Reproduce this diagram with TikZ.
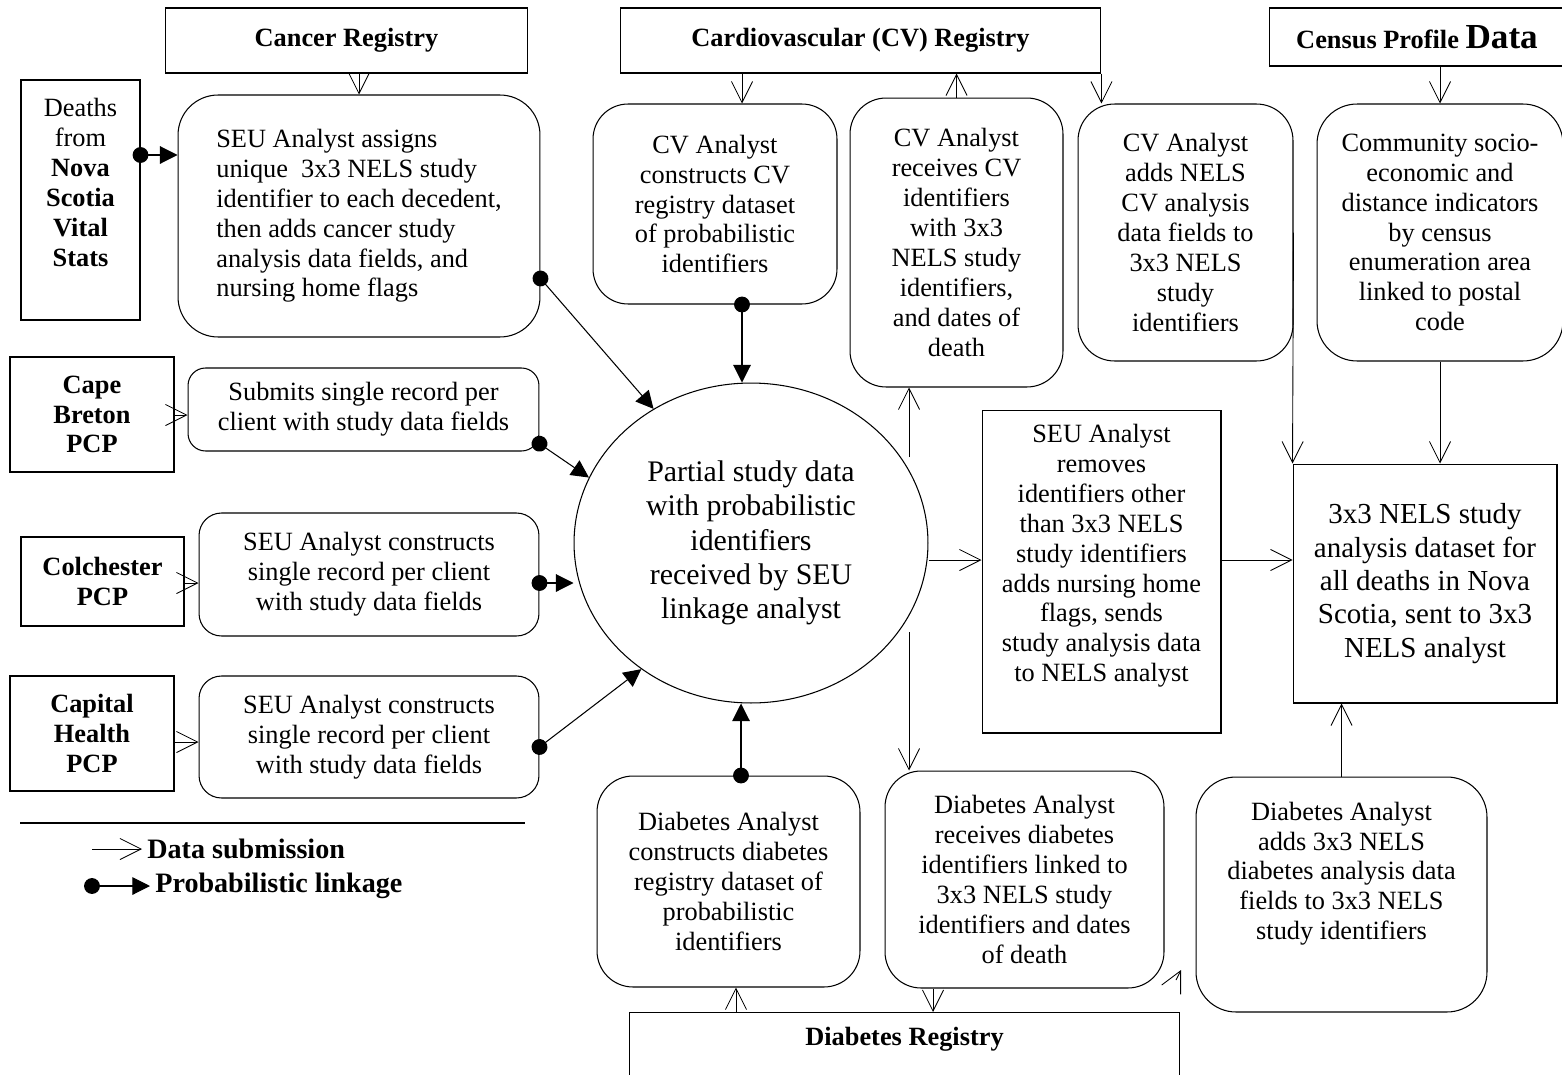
\documentclass[tikz,border=0pt]{standalone}
\usepackage{fontspec}
\setmainfont{Liberation Serif}
\usetikzlibrary{shapes.geometric, arrows.meta}

\begin{document}
\begin{tikzpicture}[x=0.02cm, y=-0.02cm,
  regbox/.style={draw, line width=0.6pt, align=center, inner sep=0pt, font=\fontsize{15}{17}\selectfont\bfseries},
  plainbox/.style={draw, line width=0.6pt, align=center, inner sep=0pt, font=\fontsize{15}{17}\selectfont},
  rbox/.style={draw, line width=0.6pt, rounded corners=#1, align=center, inner sep=0pt, font=\fontsize{15}{17}\selectfont},
  rbox/.default=0.75cm,
  hub/.style={draw, ellipse, line width=0.6pt, align=center, inner sep=0pt, font=\fontsize{17}{19.5}\selectfont},
  legend/.style={anchor=west, inner sep=0.1cm, font=\fontsize{16}{18}\selectfont\bfseries},
  sub/.style={arrows={-Straight Barb[length=12pt,width=12pt]}, line width=0.5pt},
  link/.style={arrows={Circle[length=9pt]-Triangle[length=10pt,width=10pt]}, line width=0.6pt, shorten <=-4.5pt},
]
  % Page size in pixels of the original
  \useasboundingbox (0,0) rectangle (1562,1075);

  % x positions of the vertical links
  \def\cvx{742}
  \def\diabx{741}
  \def\splitx{909}

  % Registries and data sources
  \node[regbox, minimum width=7.26cm, minimum height=1.3cm] (cancer) at (346.5,40.5) {Cancer Registry};
  \node[regbox, minimum width=9.62cm, minimum height=1.3cm] (cvreg) at (860.5,40.5) {Cardiovascular (CV) Registry};
  \node[regbox, minimum width=5.92cm, minimum height=1.16cm] (census) at (1417,37) {Census Profile {\fontsize{20}{22}\selectfont Data}};
  \node[plainbox, minimum width=2.38cm, minimum height=4.8cm, text depth=20pt] (deaths) at (80.5,200) {Deaths\\from\\\textbf{Nova}\\\textbf{Scotia}\\\textbf{Vital}\\\textbf{Stats}};
  \node[regbox, minimum width=3.28cm, minimum height=2.3cm] (cape) at (92,414.5) {Cape\\Breton\\PCP};
  \node[regbox, minimum width=3.26cm, minimum height=1.78cm] (colch) at (102.5,581.5) {Colchester\\PCP};
  \node[regbox, minimum width=3.28cm, minimum height=2.3cm] (capital) at (92,733.5) {Capital\\Health\\PCP};
  \node[regbox, anchor=north, minimum width=11.02cm, inner ysep=0.3cm, text depth=1.4cm] (dreg) at (904.5,1012) {Diabetes Registry};

  % Analyst steps
  \node[rbox=0.8cm, minimum width=7.24cm, minimum height=4.84cm, align=left] (assign) at (359,216) {SEU Analyst assigns\\unique\ \ 3x3 NELS study\\identifier to each decedent,\\then adds cancer study\\analysis data fields, and\\nursing home flags};
  \node[rbox=0.35cm, minimum width=7.02cm, minimum height=1.66cm] (submit) at (363.5,409.5) {Submits single record per\\client with study data fields};
  \node[rbox=0.45cm, minimum width=6.8cm, minimum height=2.46cm] (seuc) at (369,574.5) {SEU Analyst constructs\\single record per client\\with study data fields};
  \node[rbox=0.45cm, minimum width=6.8cm, minimum height=2.44cm] (seuh) at (369,737) {SEU Analyst constructs\\single record per client\\with study data fields};
  \node[rbox=0.7cm, minimum width=4.88cm, minimum height=4cm] (cvcon) at (715,204) {CV Analyst\\constructs CV\\registry dataset\\of probabilistic\\identifiers};
  \node[rbox=0.72cm, minimum width=4.26cm, minimum height=5.78cm] (cvrec) at (956.5,242.5) {CV Analyst\\receives CV\\identifiers\\with 3x3\\NELS study\\identifiers,\\and dates of\\death};
  \node[rbox=0.73cm, minimum width=4.3cm, minimum height=5.14cm] (cvadd) at (1185.5,232.5) {CV Analyst\\adds NELS\\CV analysis\\data fields to\\3x3 NELS\\study\\identifiers};
  \node[rbox=0.8cm, minimum width=4.92cm, minimum height=5.14cm] (comm) at (1440,232.5) {Community socio-\\economic and\\distance indicators\\by census\\enumeration area\\linked to postal\\code};
  \node[plainbox, minimum width=4.78cm, minimum height=6.46cm, text depth=21pt] (remove) at (1101.5,571.5) {SEU Analyst\\removes\\identifiers other\\than 3x3 NELS\\study identifiers\\adds nursing home\\flags, sends\\study analysis data\\to NELS analyst};
  \node[rbox=0.72cm, minimum width=5.26cm, minimum height=4.22cm] (dcon) at (728.5,881.5) {Diabetes Analyst\\constructs diabetes\\registry dataset of\\probabilistic\\identifiers};
  \node[rbox=0.72cm, minimum width=5.58cm, minimum height=4.34cm] (drec) at (1024.5,879.5) {Diabetes Analyst\\receives diabetes\\identifiers linked to\\3x3 NELS study\\identifiers and dates\\of death};
  \node[rbox=0.8cm, minimum width=5.82cm, minimum height=4.7cm, text depth=27pt] (dadd) at (1341.5,894.5) {Diabetes Analyst\\adds 3x3 NELS\\diabetes analysis data\\fields to 3x3 NELS\\study identifiers};

  % Linkage hub and final dataset
  \node[hub, minimum width=7.08cm, minimum height=6.4cm] (pool) at (751,543) {Partial study data\\with probabilistic\\identifiers\\received by SEU\\linkage analyst};
  \node[plainbox, minimum width=5.28cm, minimum height=4.78cm, font=\fontsize{16.5}{19}\selectfont] (final) at (1425,583.5) {3x3 NELS study\\analysis dataset for\\all deaths in Nova\\Scotia, sent to 3x3\\NELS analyst};

  % Data submissions
  \draw[sub] (cancer.south -| assign.north) -- (assign.north);
  \draw[sub] (cape.east |- 0,415) -- (submit.west |- 0,415);
  \draw[sub] (colch.east |- 0,583) -- (seuc.west |- 0,583);
  \draw[sub] (capital.east |- 0,742) -- (seuh.west |- 0,742);
  \draw[sub] (cvreg.south -| \cvx,0) -- (cvcon.north -| \cvx,0);
  \draw[sub] (cvrec.north) -- (cvreg.south -| cvrec.north);
  \draw[sub] (cvreg.south east) -- (cvadd.north -| cvreg.south east);
  \draw[sub] (census.south -| comm.north) -- (comm.north);
  \coordinate (up) at (\splitx,457);
  \coordinate (down) at (\splitx,632);
  \draw[sub] (up) -- (cvrec.south -| up);
  \draw[sub] (down) -- (drec.north -| down);
  \draw[sub] (pool.east |- 0,560) -- (remove.west |- 0,560);
  \draw[sub] (remove.east |- 0,560) -- (final.west |- 0,560);
  \draw[sub] (cvadd.east) -- (final.north west);
  \draw[sub] (comm.south) -- (final.north -| comm.south);
  \draw[sub] (dadd.north) -- (final.south -| dadd.north);
  \draw[sub] (dreg.north -| 736,0) -- (dcon.south -| 736,0);
  \draw[sub] (drec.south -| 933,0) -- (dreg.north -| 933,0);
  \coordinate (stray) at (1181,970);
  \draw[sub] (stray) ++(-5,10) -- (stray);

  % Probabilistic linkages
  \draw[link] (deaths.east |- 0,155) -- (assign.west |- 0,155);
  \draw[link] (assign.-19) -- (pool.126);
  \draw[link] (submit.-11) -- (pool.158);
  \draw[link] (seuc.east |- 0,583) -- (pool.west |- 0,583);
  \draw[link] (seuh.east |- 0,747) -- (pool.229);
  \draw[link] (cvcon.south -| \cvx,0) -- (pool.north -| \cvx,0);
  \draw[link] (dcon.north -| \diabx,0) -- (pool.south -| \diabx,0);

  % Legend
  \draw[line width=0.6pt] (20,823) -- (525,823);
  \node[legend] (lsub) at (142,849) {Data submission};
  \node[legend] (llink) at (150,886) {Probabilistic linkage};
  \coordinate (lsubtail) at (92,849);
  \coordinate (llinktail) at (92,886);
  \draw[sub] (lsubtail) -- (lsub.west);
  \draw[link] (llinktail) -- (llink.west);
\end{tikzpicture}
\end{document}
